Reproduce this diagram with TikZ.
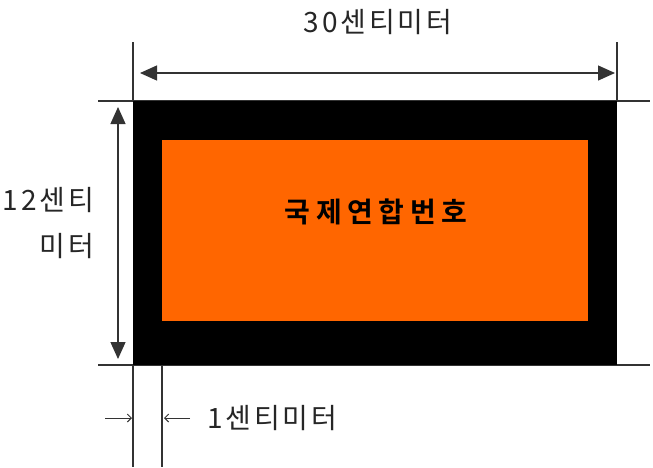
\documentclass[tikz,border=0pt]{standalone}
\usepackage{fontspec}
\usepackage{tikz}
\usetikzlibrary{arrows.meta}
\newfontfamily\kofont[LetterSpace=10]{Noto Sans CJK KR}
\newfontfamily\kobold[LetterSpace=20]{Noto Sans CJK KR Bold}
\definecolor{plateorange}{HTML}{FF6600}

\begin{document}
\begin{tikzpicture}[x=1pt, y=-1pt]
                \useasboundingbox (0,0) rectangle (653,467);
                \tikzset{dimline/.style={line width=1.3pt, draw=black!80},
                         bigtip/.style={{Triangle[length=17pt,width=15pt]}-{Triangle[length=17pt,width=15pt]}},
                         label/.style={font=\kofont\fontsize{28}{46}\selectfont, text=black!85, inner sep=0pt}}
                % Extension lines
                \coordinate (tl) at (98, 101);
                \coordinate (tr) at (650, 101);
                \coordinate (bl) at (98, 365);
                \coordinate (br) at (650, 365);
                \coordinate (ua) at (133, 42);
                \coordinate (ub) at (617, 42);
                \coordinate (la) at (133, 467);
                \coordinate (lb) at (162, 467);
                \draw[dimline] (tl) -- (tr);
                \draw[dimline] (bl) -- (br);
                \draw[dimline] (ua) -- (133, 101);
                \draw[dimline] (ub) -- (617, 101);
                \draw[dimline] (133, 365) -- (la);
                \draw[dimline] (162, 365) -- (lb);

                % Plate
                \node[rectangle, fill=black, anchor=north west, inner sep=0pt, minimum width=484pt, minimum height=264pt] (plate) at (133, 101) {};
                \node[rectangle, fill=plateorange, anchor=north west, inner sep=0pt, minimum width=426pt, minimum height=181pt] (panel) at (162, 140) {};
                \node[font=\kobold\fontsize{28}{32}\selectfont, inner sep=0pt] (number) at (376, 212) {국제연합번호};

                % Dimensions
                \coordinate (wl) at (140, 73);
                \coordinate (wr) at (615, 73);
                \coordinate (ht) at (118, 107);
                \coordinate (hb) at (118, 359);
                \draw[dimline, bigtip] (wl) -- (wr);
                \draw[dimline, bigtip] (ht) -- (hb);
                \node[label] (width) at (378, 22) {30센티미터};
                \node[label, align=right, anchor=east] (height) at (94, 223) {12센티\\미터};

                \coordinate (sa) at (105, 418);
                \coordinate (sb) at (132, 418);
                \coordinate (sc) at (190, 418);
                \coordinate (sd) at (164, 418);
                \draw[dimline, line width=1pt, -{Straight Barb[length=4pt,width=8pt]}] (sa) -- (sb);
                \draw[dimline, line width=1pt, -{Straight Barb[length=4pt,width=8pt]}] (sc) -- (sd);
                \node[label, anchor=west] (border) at (207, 418) {1센티미터};
            \end{tikzpicture}
\end{document}
